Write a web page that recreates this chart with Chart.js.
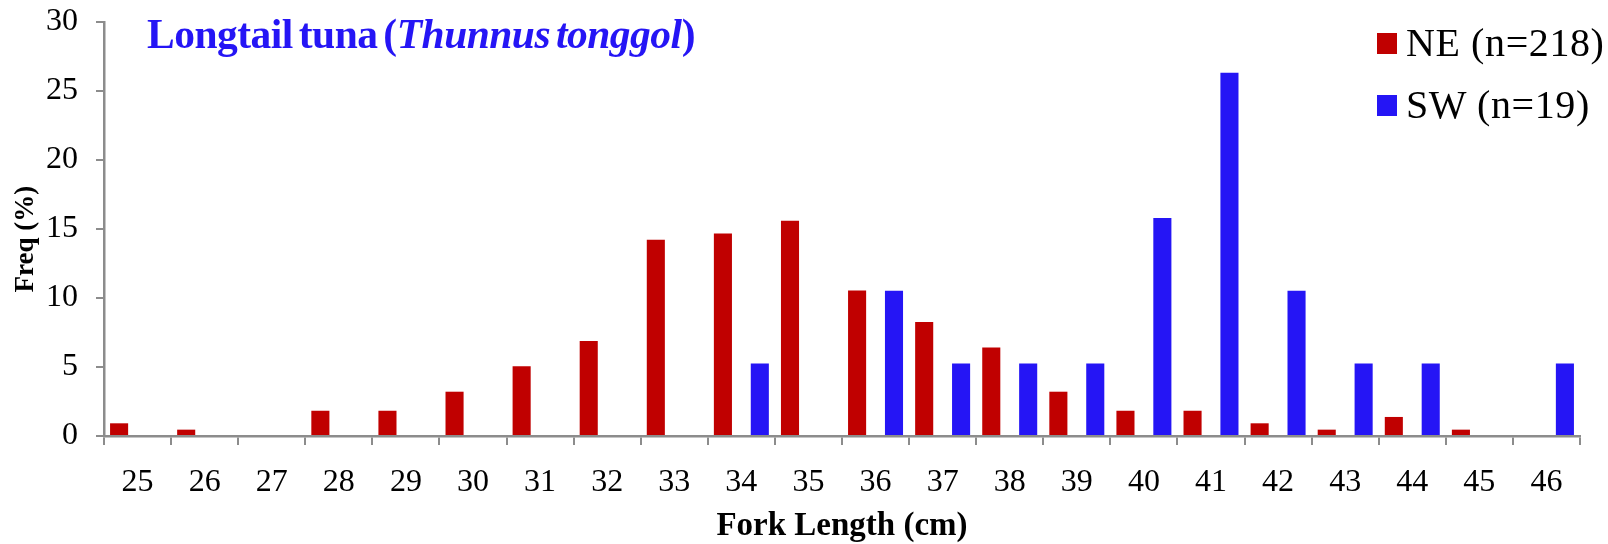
<!DOCTYPE html>
<html>
<head>
<meta charset="utf-8">
<script src="https://cdn.jsdelivr.net/npm/chart.js@4"></script>
<style>
  html, body { margin: 0; padding: 0; background: #fff; }
  #wrap { position: relative; width: 1608px; height: 544px; }
  #title {
    position: absolute; left: 147px; top: 10px;
    font-family: "Liberation Serif", "Times New Roman", serif;
    font-weight: bold; font-size: 41.5px; color: #2515F5;
    letter-spacing: -0.5px; word-spacing: -4px; white-space: nowrap;
  }
  #legend {
    position: absolute; left: 1377px; top: 12px;
    font-family: "Liberation Serif", "Times New Roman", serif;
    font-size: 40px; color: #000; line-height: 62px; letter-spacing: 0.6px;
    white-space: nowrap;
  }
  .sw { display: inline-block; width: 20px; height: 21px; margin-right: 9px; vertical-align: 2px; }
</style>
</head>
<body>
<div id="wrap">
  <canvas id="freqChart" width="1608" height="544"></canvas>
  <div id="title">Longtail tuna (<i>Thunnus tonggol</i>)</div>
  <div id="legend">
    <div><span class="sw" style="background:#C00000"></span>NE (n=218)</div>
    <div><span class="sw" style="background:#2515F5"></span>SW (n=19)</div>
  </div>
</div>
<script>
// fork length classes (cm)
var forkLengths = ['25','26','27','28','29','30','31','32','33','34','35','36','37','38','39','40','41','42','43','44','45','46'];

// NE monsoon, % of 218 fish (null = no fish in class)
var neFreq = [0.92, 0.46, null, 1.83, 1.83, 3.21, 5.05, 6.88, 14.22, 14.68, 15.60, 10.55, 8.26, 6.42, 3.21, 1.83, 1.83, 0.92, 0.46, 1.38, 0.46, null];

// SW monsoon, % of 19 fish
var swFreq = [null, null, null, null, null, null, null, null, null, 5.26, null, 10.53, 5.26, 5.26, 5.26, 15.79, 26.32, 10.53, 5.26, 5.26, null, 5.26];

var yTicks = [0, 5, 10, 15, 20, 25, 30];

var serif = '"Liberation Serif", "Times New Roman", serif';
var axisGray = '#8c8c8c';

var ctx = document.getElementById('freqChart');

var freqChart = new Chart(ctx, {
    type: 'bar',
    data: {
        labels: forkLengths,
        datasets: [{
            label: 'NE (n=218)',
            data: neFreq,
            backgroundColor: '#C00000'
        }, {
            label: 'SW (n=19)',
            data: swFreq,
            backgroundColor: '#2515F5'
        }]
    },
    options: {
        responsive: false,
        animation: false,
        datasets: {
            bar: { categoryPercentage: 1.1, barPercentage: 0.49 }
        },
        layout: {
            padding: { left: 0, right: 28, top: 22, bottom: 0 }
        },
        plugins: {
            legend: { display: false },
            tooltip: { enabled: false }
        },
        scales: {
            x: {
                offset: true,
                grid: {
                    display: true,
                    drawOnChartArea: false,
                    drawTicks: true,
                    tickLength: 9,
                    color: axisGray,
                    lineWidth: 2,
                    offset: true
                },
                border: { color: axisGray, width: 2.5 },
                ticks: {
                    color: '#000',
                    padding: 18,
                    maxRotation: 0,
                    font: { family: serif, size: 32 }
                },
                title: {
                    display: true,
                    text: 'Fork Length (cm)',
                    color: '#000',
                    padding: { top: 0, bottom: 0 },
                    font: { family: serif, size: 33, weight: 'bold', lineHeight: 1.05 }
                },
                afterFit: function(scale) {
                    scale.height = 108;
                    scale.paddingLeft = 0;
                    scale.paddingRight = 0;
                }
            },
            y: {
                min: 0,
                max: 30,
                afterBuildTicks: function(scale) {
                    scale.ticks = yTicks.map(function(v) { return { value: v }; });
                },
                grid: {
                    display: true,
                    drawOnChartArea: false,
                    drawTicks: true,
                    tickLength: 8,
                    color: axisGray,
                    lineWidth: 2
                },
                border: { color: axisGray, width: 2.5 },
                ticks: {
                    color: '#000',
                    padding: 18,
                    font: { family: serif, size: 32 }
                },
                title: {
                    display: true,
                    // trailing spaces nudge the rotated title a bit lower, like the original
                    text: 'Freq (%)   ',
                    color: '#000',
                    padding: { top: 10, bottom: 0 },
                    font: { family: serif, size: 27, weight: 'bold' }
                },
                afterFit: function(scale) {
                    scale.width = 104;
                    scale.paddingTop = 0;
                    scale.paddingBottom = 0;
                }
            }
        }
    }
});
</script>
</body>
</html>
